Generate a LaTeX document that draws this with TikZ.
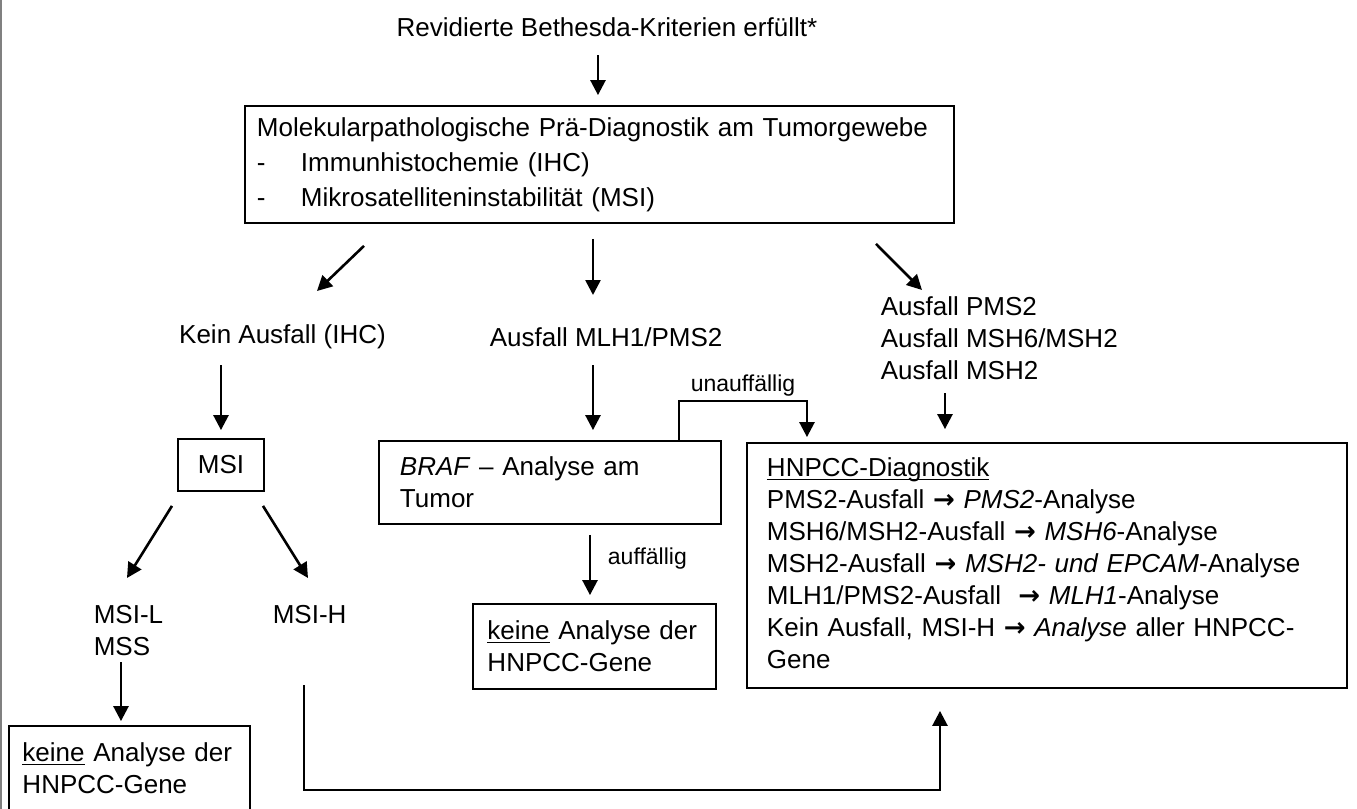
\documentclass[tikz,border=0pt]{standalone}
\usepackage{fontspec}
\setmainfont{Liberation Sans}
\newfontfamily\pfeilfont{DejaVu Sans}
\usetikzlibrary{arrows.meta}
\newcommand{\pf}{{\pfeilfont\bfseries →}}
\newcommand{\unterstr}[1]{\underline{\smash{#1}}}

\begin{document}
\begin{tikzpicture}[node distance=2cm, thick,
        font=\fontsize{13pt}{16pt}\selectfont,
        kasten/.style={draw, rectangle, line width=0.9pt, align=left},
        frei/.style={inner sep=0pt, align=left},
        pfeil/.style={-{Triangle[length=7.5pt,width=7.5pt]}, line width=1.3pt},
        marke/.style={font=\fontsize{11.5pt}{14pt}\selectfont}]
        \useasboundingbox (-303.5pt,13.5pt) rectangle (375pt,-391pt);
        \draw[gray, line width=0.6pt] (-303pt,13.5pt) -- (-303pt,-391pt);

        \node (kriterien) [frei] {Revidierte Bethesda-Kriterien erfüllt*};
        \node (prae) [kasten, below of=kriterien, node distance=68.75pt, xshift=-3.75pt, text width=342.5pt, inner xsep=6pt, minimum height=58.5pt, font=\fontsize{13pt}{17.5pt}\selectfont] {Molekularpathologische Prä-Diagnostik am Tumorgewebe\\ \makebox[22pt][l]{-}Immunhistochemie (IHC)\\ \makebox[22pt][l]{-}Mikrosatelliteninstabilität (MSI)};
        \node (keinaus) [frei, below of=prae, node distance=86.25pt, xshift=-158.5pt] {Kein Ausfall (IHC)};
        \node (mlh) [frei, below of=prae, node distance=86.25pt, xshift=-55.25pt, anchor=west] {Ausfall MLH1/PMS2};
        \node (weitere) [frei, below of=prae, node distance=86.75pt, xshift=140.25pt, anchor=west] {Ausfall PMS2\\Ausfall MSH6/MSH2\\Ausfall MSH2};
        \node (msi) [kasten, below of=keinaus, node distance=64pt, xshift=-30.75pt, minimum width=43pt, minimum height=26pt, align=center] {MSI};
        \node (braf) [kasten, below of=prae, node distance=159pt, xshift=-24.75pt, text width=150pt, inner xsep=10.5pt, minimum height=41.5pt] {\textit{BRAF} – Analyse am\\Tumor};
        \node (hnpcc) [kasten, right of=braf, node distance=248.5pt, yshift=-41.5pt, text width=280pt, inner xsep=10pt, minimum height=122.5pt] {\rule{0pt}{7.5pt}\unterstr{HNPCC-Diagnostik}\\
            PMS2-Ausfall \pf{} \textit{PMS2}-Analyse\\
            MSH6/MSH2-Ausfall \pf{} \textit{MSH6}-Analyse\\
            MSH2-Ausfall \pf{} \textit{MSH2- und EPCAM}-Analyse\\
            MLH1/PMS2-Ausfall~ \pf{} \textit{MLH1}-Analyse\\
            Kein Ausfall, MSI-H \pf{} \textit{Analyse} aller HNPCC-\\
            Gene};
        \node (keine2) [kasten, below of=braf, node distance=82pt, xshift=22.25pt, text width=107pt, inner xsep=7.25pt, minimum height=42.5pt] {\unterstr{keine} Analyse der\\HNPCC-Gene};
        \node (msil) [frei, below of=msi, node distance=83pt, xshift=-64pt, anchor=west] {MSI-L\\MSS};
        \node (msih) [frei, below of=msi, node distance=75pt, xshift=25.5pt, anchor=west] {MSI-H};
        \node (keine1) [kasten, below of=msi, node distance=151.75pt, xshift=-45.75pt, text width=107pt, inner xsep=6.75pt, minimum height=42.5pt] {\unterstr{keine} Analyse der\\HNPCC-Gene};

        \draw[pfeil] ([xshift=-4.5pt,yshift=-14pt]kriterien.center) -- ([xshift=-0.75pt,yshift=5pt]prae.north);
        \draw[pfeil] ([xshift=-117.75pt,yshift=-11pt]prae.south) -- ([xshift=17.25pt,yshift=23pt]keinaus.center);
        \draw[pfeil] ([xshift=-3.25pt,yshift=-7.5pt]prae.south) -- ([xshift=52pt,yshift=21pt]mlh.west);
        \draw[pfeil] ([xshift=138.25pt,yshift=-10pt]prae.south) -- ([xshift=21pt,yshift=24pt]weitere.west);
        \draw[pfeil] ([xshift=-30.75pt,yshift=-14pt]keinaus.center) -- ([yshift=4pt]msi.north);
        \draw[pfeil] ([xshift=52pt,yshift=-14pt]mlh.west) -- ([xshift=21.5pt,yshift=5pt]braf.north);
        \draw[pfeil] ([xshift=32.5pt,yshift=-27.5pt]weitere.west) -- ([xshift=-51pt,yshift=6.5pt]hnpcc.north);
        \draw[pfeil] ([xshift=64.5pt]braf.north) -- ++(0,19.5pt) -| node[marke, above, pos=0.25, yshift=-1.5pt] {unauffällig} ([xshift=-120pt,yshift=2.5pt]hnpcc.north);
        \draw[pfeil] ([xshift=20pt,yshift=-5pt]braf.south) -- node[marke, right, xshift=5pt, pos=0.4] {auffällig} ([xshift=-2.25pt,yshift=4pt]keine2.north);
        \draw[pfeil] ([xshift=-24.5pt,yshift=-7pt]msi.south) -- ([xshift=17pt,yshift=26.5pt]msil.west);
        \draw[pfeil] ([xshift=21pt,yshift=-7pt]msi.south) -- ([xshift=18pt,yshift=18.5pt]msih.west);
        \draw[pfeil] ([xshift=14pt,yshift=-15.5pt]msil.west) -- ([xshift=-4.25pt,yshift=2pt]keine1.north);
        \draw[pfeil] ([xshift=16pt,yshift=-35pt]msih.west) -- ++(0,-52.5pt) -| ([xshift=-53.5pt,yshift=-11pt]hnpcc.south);
    \end{tikzpicture}
\end{document}
